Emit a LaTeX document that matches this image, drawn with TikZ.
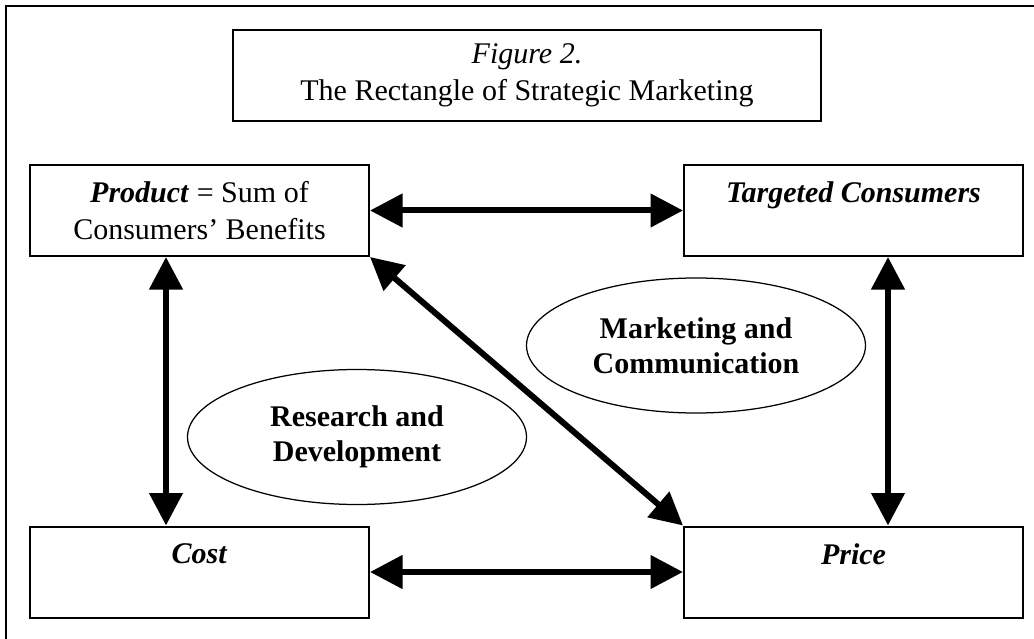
\documentclass[tikz,border=0pt]{standalone}
\usepackage{fontspec}
\setmainfont{Liberation Serif}
\usetikzlibrary{arrows.meta,shapes.geometric}
\tikzset{
  box/.style={draw,line width=0.8pt,minimum width=135.6pt,minimum height=36.4pt,
    inner sep=0pt,align=center,font=\fontsize{12}{14.6}\selectfont},
  oval/.style={draw,ellipse,line width=0.5pt,minimum width=135.6pt,minimum height=54pt,
    inner sep=0pt,align=center,font=\fontsize{12}{14}\selectfont\bfseries},
  twoway/.style={line width=2.4pt,{Triangle[length=13pt,width=13pt]}-{Triangle[length=13pt,width=13pt]}}
}
\begin{document}
\begin{tikzpicture}[x=0.4pt,y=-0.4pt]
% pixel coordinates of the reference, y running downwards
\clip (0,0) rectangle (1034,639);
\useasboundingbox (0,0) rectangle (1034,639);
% outer frame runs off the right and bottom edges
\draw[line width=0.8pt] (6,660) -- (6,6) -- (1060,6);
% title
\node[box,minimum width=235.2pt] (title) at (527,75.5)
    {\textit{Figure 2.}\\The Rectangle of Strategic Marketing};
% the four corners of the rectangle
\node[box] (product) at (199.5,210.5)
    {\textbf{\textit{Product}} = Sum of\\Consumers' Benefits};
\node[box] (consumers) at (853.5,210.5)
    {\textbf{\textit{Targeted Consumers}}\\\mbox{}};
\node[box] (cost) at (199.5,572)
    {\textbf{\textit{Cost}}\\\mbox{}};
\node[box] (price) at (853.5,572)
    {\textbf{\textit{Price}}\\\mbox{}};
% the two fields in between
\node[oval] (research) at (357,437) {Research and\\Development};
\node[oval] (marketing) at (696,345.5) {Marketing and\\Communication};
% connectors
\draw[twoway] (product.east) -- (consumers.west);
\draw[twoway] (cost.east) -- (price.west);
\draw[twoway] ([xshift=-13.4pt]product.south) -- ([xshift=-13.4pt]cost.north);
\draw[twoway] ([xshift=13.8pt]consumers.south) -- ([xshift=13.8pt]price.north);
\draw[twoway] (product.south east) -- (price.north west);
\end{tikzpicture}
\end{document}
